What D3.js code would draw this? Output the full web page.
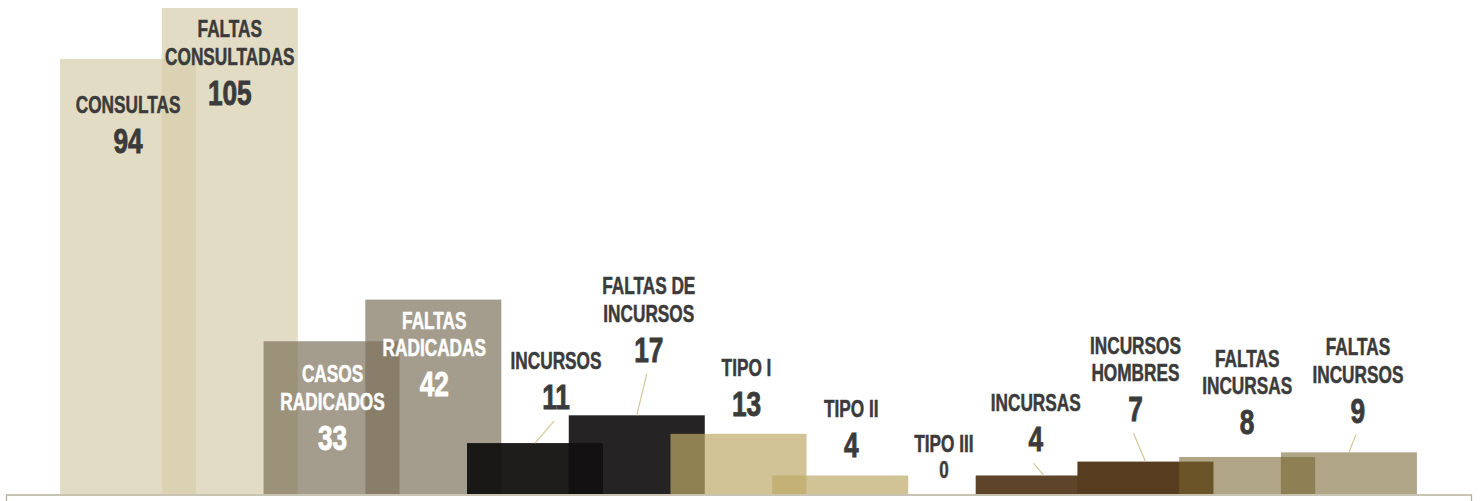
<!DOCTYPE html>
<html>
<head>
<meta charset="utf-8">
<script src="https://cdn.jsdelivr.net/npm/d3@7/dist/d3.min.js"></script>
<style>
  html, body { margin: 0; padding: 0; background: #ffffff; }
  svg { display: block; }
  text { font-family: "Liberation Sans", Arial, sans-serif; font-weight: bold; }
</style>
</head>
<body>
<svg id="chart" width="1480" height="501"></svg>
<script>
// ---- data ----
const categories = [
  ["CONSULTAS"],
  ["FALTAS", "CONSULTADAS"],
  ["CASOS", "RADICADOS"],
  ["FALTAS", "RADICADAS"],
  ["INCURSOS"],
  ["FALTAS DE", "INCURSOS"],
  ["TIPO I"],
  ["TIPO II"],
  ["TIPO III"],
  ["INCURSAS"],
  ["INCURSOS", "HOMBRES"],
  ["FALTAS", "INCURSAS"],
  ["FALTAS", "INCURSOS"]
];
const values = [94, 105, 33, 42, 11, 17, 13, 4, 0, 4, 7, 8, 9];

// ---- styles (separate from data) ----
const barColors = ["#d8cead", "#d8cead", "#7e725b", "#7e725b", "#121110", "#121010", "#bea968", "#bea968", "#bea968", "#5e4429", "#573c1f", "#786530", "#786530"];
const barOpacity = [0.72, 0.72, 0.7, 0.7, 0.95, 0.92, 0.7, 0.7, 0.7, 1, 1, 0.585, 0.585];
const labelColors = ["#3b3b3b", "#3b3b3b", "#ffffff", "#ffffff", "#3b3b3b", "#3b3b3b", "#3b3b3b", "#3b3b3b", "#3b3b3b", "#3b3b3b", "#3b3b3b", "#3b3b3b", "#3b3b3b"];
// label placement relative to bar top / centre
const labelDx = [0, 0, 1, 1, 21, 12, 8, 11, 2, -8, -10, 0, 9];
const labelDy = [54, 29, 41, 29, -74, -121, -58, -58, -42, -64, -108, -90, -97];
const leader = [false, false, false, false, true, true, false, false, false, true, true, false, true];
const smallValue = [false, false, false, false, false, false, false, false, true, false, false, false, false];

const W = 1480, H = 501;
const svg = d3.select("#chart");
const keys = d3.range(categories.length);

const x = d3.scalePoint().domain(keys).range([6, 1471]).padding(1.2);
const y = d3.scaleLinear().domain([0, 105]).range([494, 8]);
const barW = x.step() * 1.337;

// bars
svg.append("g").selectAll("rect").data(keys).join("rect")
  .attr("x", i => x(i) - barW / 2)
  .attr("y", i => y(values[i]))
  .attr("width", barW)
  .attr("height", i => y(0) - y(values[i]))
  .attr("fill", i => barColors[i])
  .attr("fill-opacity", i => barOpacity[i]);

// axis (domain line with outer ticks)
const axis = d3.axisBottom(x).tickValues([]).tickSizeOuter(7);
const ag = svg.append("g").attr("transform", "translate(0,494.5)").call(axis);
ag.select(".domain").attr("stroke", "#b8b09b").attr("stroke-width", 1.3);

// labels
const lineH = 27.5, numGap = 40;
const lg = svg.append("g");
keys.forEach(i => {
  const cx = x(i) + labelDx[i];
  const top = y(values[i]) + labelDy[i];
  const lines = categories[i];
  const g = lg.append("g").attr("transform", `translate(${cx},${top})`);
  lines.forEach((t, k) => {
    g.append("text")
      .attr("text-anchor", "middle")
      .attr("transform", `translate(0,${k * lineH}) scale(0.75,1)`)
      .attr("font-size", 23)
      .attr("fill", labelColors[i])
      .attr("stroke", labelColors[i])
      .attr("stroke-width", 0.5)
      .text(t);
  });
  const lastBase = (lines.length - 1) * lineH;
  const numBase = smallValue[i] ? lastBase + 26 : lastBase + numGap;
  g.append("text")
    .attr("text-anchor", "middle")
    .attr("transform", `translate(0,${numBase}) scale(0.74,1)`)
    .attr("font-size", smallValue[i] ? 23 : 35.5)
    .attr("fill", labelColors[i])
    .attr("stroke", labelColors[i])
    .attr("stroke-width", smallValue[i] ? 0.5 : 0.9)
    .text(values[i]);
  if (leader[i]) {
    lg.append("line")
      .attr("x1", cx - 2).attr("y1", top + numBase + 12)
      .attr("x2", x(i)).attr("y2", y(values[i]))
      .attr("stroke", "#d3c698").attr("stroke-width", 1.2);
  }
});
</script>
</body>
</html>
